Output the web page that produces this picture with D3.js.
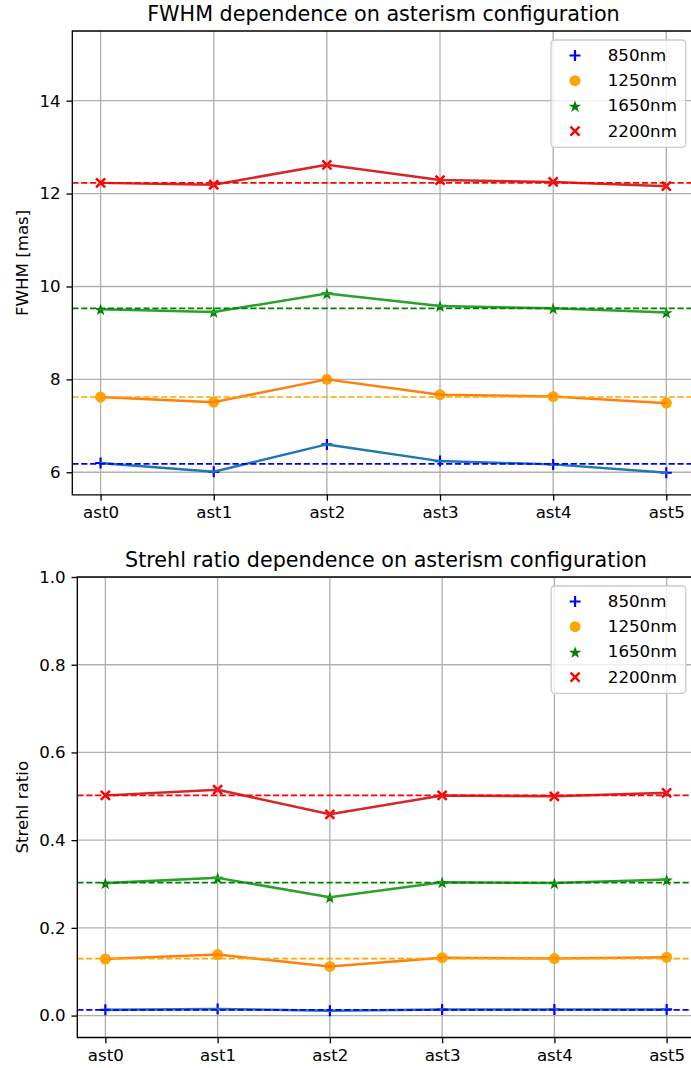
<!DOCTYPE html>
<html><head><meta charset="utf-8">
<script src="https://cdn.jsdelivr.net/npm/d3@7"></script>
<style>body{margin:0;background:#fff}svg{display:block}text{font-family:"DejaVu Sans",sans-serif;fill:#000}</style>
</head><body><svg id="c" width="691" height="1068"></svg>
<script>
const categories = ["ast0","ast1","ast2","ast3","ast4","ast5"];
const wavelengths = ["850nm","1250nm","1650nm","2200nm"];
// FWHM [mas]
const fwhm850  = [6.20, 6.01, 6.60, 6.24, 6.17, 5.99];
const fwhm1250 = [7.62, 7.51, 8.00, 7.67, 7.63, 7.49];
const fwhm1650 = [9.51, 9.45, 9.85, 9.58, 9.53, 9.44];
const fwhm2200 = [12.23, 12.19, 12.62, 12.29, 12.25, 12.16];
const fwhmRef  = [6.18, 7.62, 9.53, 12.23];
// Strehl ratio
const sr850  = [0.013, 0.015, 0.011, 0.014, 0.014, 0.014];
const sr1250 = [0.129, 0.139, 0.112, 0.132, 0.130, 0.133];
const sr1650 = [0.302, 0.314, 0.270, 0.304, 0.302, 0.310];
const sr2200 = [0.502, 0.515, 0.459, 0.502, 0.500, 0.508];
const srRef  = [0.013, 0.130, 0.303, 0.502];
const fwhmTicks = [6, 8, 10, 12, 14];
const srTicks = [0.0, 0.2, 0.4, 0.6, 0.8, 1.0];

const lineColors = ["#1f77b4","#ff7f0e","#2ca02c","#d62728"];
const markColors = ["blue","orange","green","red"];
const markTypes = ["plus","circle","star","x"];

const svg = d3.select("#c");
const FS = 16.67;

function drawMarker(g, type, color, x, y) {
  if (type === "plus") {
    g.append("path").attr("d", `M${x-5.5},${y}H${x+5.5}M${x},${y-5.5}V${y+5.5}`)
      .attr("stroke", color).attr("stroke-width", 2.2).attr("fill","none");
  } else if (type === "x") {
    g.append("path").attr("d", `M${x-4.5},${y-4.5}L${x+4.5},${y+4.5}M${x-4.5},${y+4.5}L${x+4.5},${y-4.5}`)
      .attr("stroke", color).attr("stroke-width", 2.5).attr("fill","none");
  } else if (type === "circle") {
    g.append("circle").attr("cx", x).attr("cy", y).attr("r", 5.5).attr("fill", color);
  } else {
    g.append("path").attr("d", d3.symbol(d3.symbolStar, 48)()).attr("transform", `translate(${x},${y+0.8})`).attr("fill", color);
  }
}

function panel(o) {
  const {left, right, top, bottom, domain, ticks, fmt, series, refs, title, ylabel} = o;
  const x = d3.scalePoint().domain(categories).range([left, right]).padding(0.25);
  const y = d3.scaleLinear().domain(domain).range([bottom, top]);
  const g = svg.append("g");
  const clipId = "clip" + Math.round(top);
  svg.append("clipPath").attr("id", clipId).append("rect")
    .attr("x", left).attr("y", top).attr("width", right-left).attr("height", bottom-top);
  const inner = g.append("g").attr("clip-path", `url(#${clipId})`);
  // grid
  inner.selectAll(".gx").data(categories).join("line")
    .attr("x1", d=>x(d)).attr("x2", d=>x(d)).attr("y1", top).attr("y2", bottom)
    .attr("stroke","#b0b0b0").attr("stroke-width",1.33);
  inner.selectAll(".gy").data(ticks).join("line")
    .attr("x1", left).attr("x2", right).attr("y1", d=>y(d)).attr("y2", d=>y(d))
    .attr("stroke","#b0b0b0").attr("stroke-width",1.33);
  // data
  series.forEach((vals, i) => {
    vals.forEach((v, j) => drawMarker(inner, markTypes[i], markColors[i], x(categories[j]), y(v)));
    inner.append("path").datum(vals)
      .attr("d", d3.line().x((d,j)=>x(categories[j])).y(d=>y(d)))
      .attr("fill","none").attr("stroke", lineColors[i]).attr("stroke-width", 2.5)
      .attr("stroke-linejoin","round").attr("stroke-linecap","square");
    inner.append("line").attr("x1", left).attr("x2", right)
      .attr("y1", y(refs[i])).attr("y2", y(refs[i]))
      .attr("stroke", markColors[i]).attr("stroke-width", 1.67).attr("stroke-dasharray","6.2,2.7");
  });
  // axes
  const ax = g.append("g").attr("transform", `translate(0,${bottom})`)
    .call(d3.axisBottom(x).tickSize(5.8).tickPadding(5.8));
  const ay = g.append("g").attr("transform", `translate(${left},0)`)
    .call(d3.axisLeft(y).tickValues(ticks).tickFormat(fmt).tickSize(5.8).tickPadding(5.8));
  [ax, ay].forEach(a => {
    a.select(".domain").remove();
    a.selectAll("line").attr("stroke","#000").attr("stroke-width",1.33);
    a.selectAll("text").attr("font-size", FS).attr("font-family","DejaVu Sans").attr("fill","#000");
  });
  // spines
  g.append("path").attr("d", `M${right+1},${top}H${left}V${bottom}H${right+1}`)
    .attr("fill","none").attr("stroke","#000").attr("stroke-width",1.33);
  // title
  g.append("text").attr("x", (left+right)/2).attr("y", top-10).attr("text-anchor","middle")
    .attr("font-size", 20.7).text(title);
  // ylabel
  g.append("text").attr("transform", `translate(22,${(top+bottom)/2}) rotate(-90)`)
    .attr("text-anchor","middle").attr("dominant-baseline","central").attr("font-size", FS).text(ylabel);
  // legend
  const lw = 134.7, lh = 107.3;
  const lx = right - 8.9 - lw, ly = top + 9;
  const lg = g.append("g");
  lg.append("rect").attr("x", lx).attr("y", ly).attr("width", lw).attr("height", lh).attr("rx", 3.5)
    .attr("fill","#fff").attr("fill-opacity",0.8).attr("stroke","#cccccc").attr("stroke-width",1.33);
  wavelengths.forEach((w, i) => {
    const ry = ly + 15.5 + i*25.2;
    drawMarker(lg, markTypes[i], markColors[i], lx + 24, ry);
    lg.append("text").attr("x", lx + 56.7).attr("y", ry).attr("dominant-baseline","central")
      .attr("font-size", FS).text(w);
  });
}

panel({left:72.3, right:694.6, top:31, bottom:494.8, domain:[5.515, 15.5], ticks:fwhmTicks,
  fmt:d3.format("d"), series:[fwhm850,fwhm1250,fwhm1650,fwhm2200], refs:fwhmRef,
  title:"FWHM dependence on asterism configuration", ylabel:"FWHM [mas]"});
panel({left:77.3, right:694.7, top:577, bottom:1037.5, domain:[-0.05, 1.0], ticks:srTicks,
  fmt:d3.format(".1f"), series:[sr850,sr1250,sr1650,sr2200], refs:srRef,
  title:"Strehl ratio dependence on asterism configuration", ylabel:"Strehl ratio"});
</script></body></html>
